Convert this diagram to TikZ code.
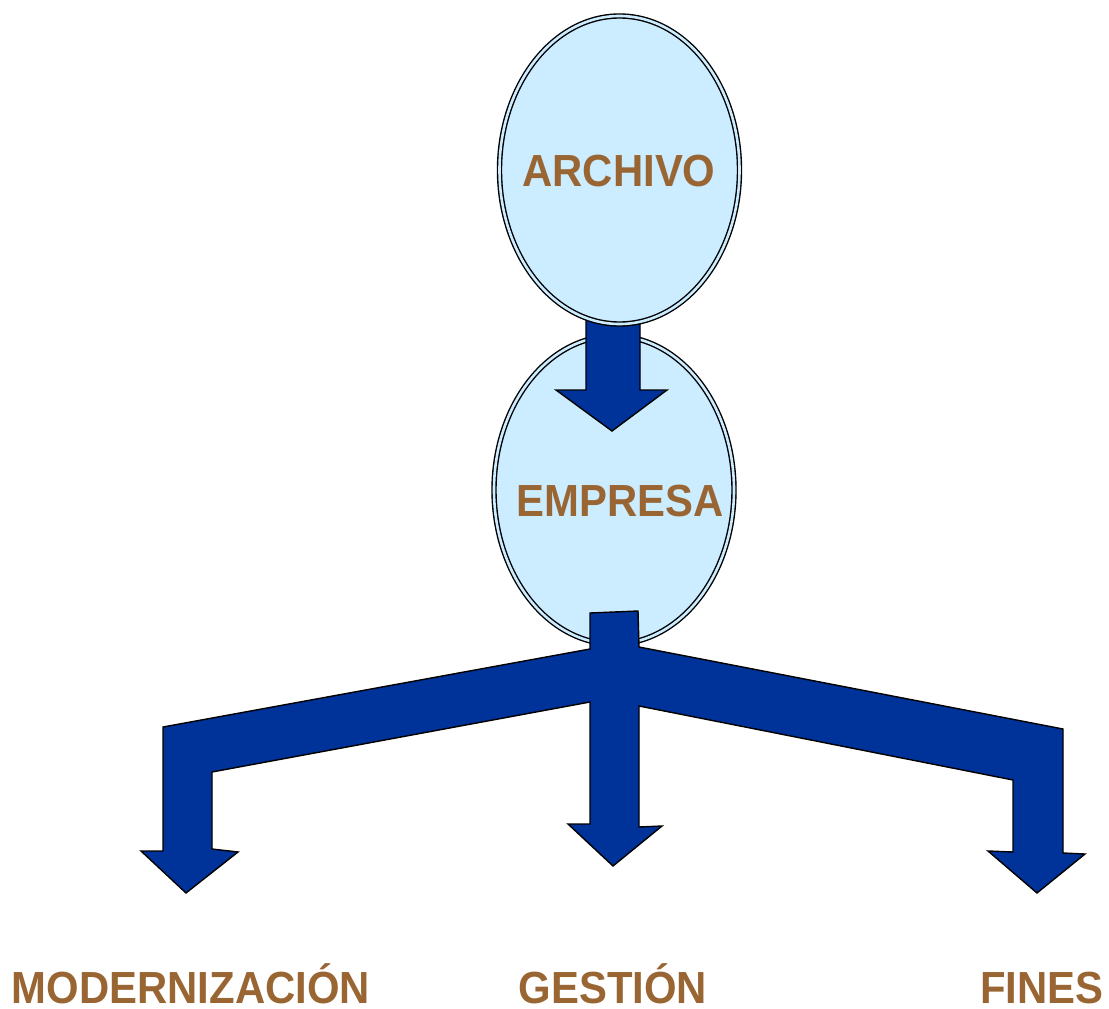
\documentclass[tikz,border=0pt]{standalone}
\usepackage{fontspec}
\setmainfont{Liberation Sans}[FakeStretch=0.93]
\usetikzlibrary{shapes.geometric}
\definecolor{ellfill}{RGB}{204,236,255}
\definecolor{arrowblue}{RGB}{0,51,153}
\definecolor{labbrown}{RGB}{153,102,51}
\tikzset{
  oval/.style={ellipse, draw=black, line width=1.4pt, double=ellfill, double distance=2.6pt, fill=ellfill, inner sep=0pt},
  blockarrow/.style={fill=arrowblue, draw=black, line width=1.4pt, line join=miter},
  lab/.style={text=labbrown, font=\fontsize{45}{50}\selectfont\bfseries, inner sep=0pt, anchor=base}
}
\begin{document}
\begin{tikzpicture}[x=1pt,y=-1pt]
\useasboundingbox (0,0) rectangle (1109,1009);
% EMPRESA ellipse
\node[oval, minimum width=240pt, minimum height=308pt] (empresa) at (614,490) {};
% top arrow
\draw[blockarrow] (586,300) -- (640,300) -- (640,390) -- (667,390) -- (612,431) -- (556,390) -- (586,390) -- cycle;
% ARCHIVO ellipse
\node[oval, minimum width=240pt, minimum height=308pt] (archivo) at (619.5,170) {};
\node[lab] (tarchivo) at (619,186) {ARCHIVO};
\node[lab] (tempresa) at (620,516) {EMPRESA};
% branching arrow
\draw[blockarrow] (590,613) -- (638,611) -- (639,647) -- (1063,729) -- (1063,853) -- (1085,854) -- (1037,893) -- (988,851) -- (1013,852) -- (1013,780) -- (639,706) -- (639,827) -- (662,826) -- (613,866) -- (568,824) -- (590,824) -- (590,702) -- (212,772) -- (212,849) -- (238,852) -- (186,893) -- (141,851) -- (163,851) -- (163,727) -- (590,649) -- cycle;
% labels
\node[lab] (tmod) at (191,1003) {MODERNIZACIÓN};
\node[lab] (tges) at (613,1003) {GESTIÓN};
\node[lab] (tfin) at (1042,1003) {FINES};
\end{tikzpicture}
\end{document}
